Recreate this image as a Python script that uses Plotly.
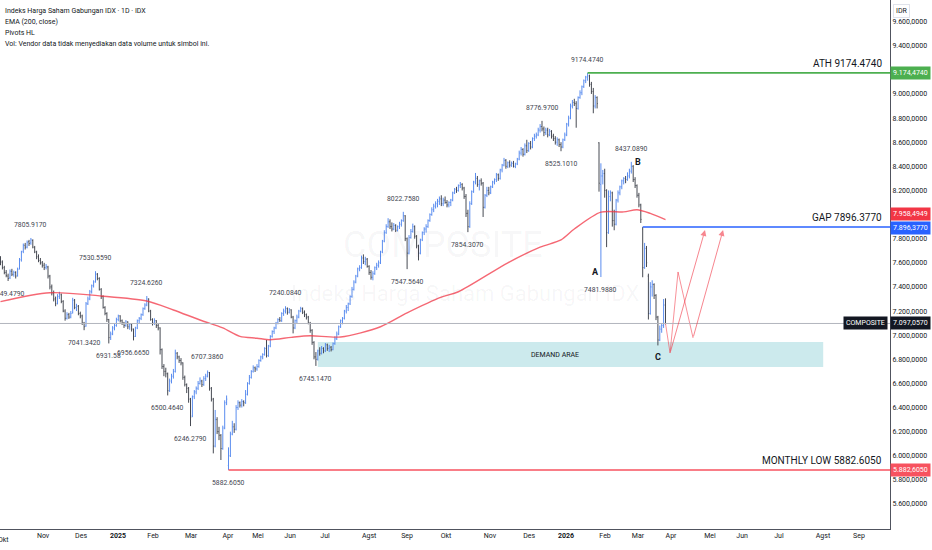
import plotly.graph_objects as go

# daily bars: (open, high, low, close)
bars_okt24 = [
    (7640, 7655, 7580, 7610), (7605, 7620, 7545, 7560), (7560, 7575, 7505, 7520), (7520, 7540, 7480, 7495), (7490, 7510, 7449.479, 7470),
    (7475, 7545, 7465, 7530), (7530, 7550, 7490, 7505), (7505, 7535, 7485, 7520), (7520, 7530, 7470, 7490), (7495, 7560, 7485, 7545),
    (7550, 7640, 7545, 7625), (7625, 7700, 7610, 7690), (7695, 7760, 7680, 7745), (7745, 7765, 7710, 7730), (7730, 7785, 7720, 7770),
    (7775, 7790, 7740, 7760), (7765, 7805.917, 7750, 7790), (7785, 7795, 7720, 7730), (7725, 7740, 7680, 7690), (7690, 7700, 7630, 7650),
    (7650, 7670, 7605, 7620), (7620, 7640, 7585, 7600), (7600, 7615, 7560, 7580),
]
bars_nov24 = [
    (7580, 7600, 7540, 7560), (7560, 7590, 7545, 7570), (7565, 7575, 7470, 7490), (7490, 7500, 7380, 7400), (7400, 7420, 7330, 7350),
    (7350, 7370, 7280, 7300), (7300, 7320, 7240, 7260), (7265, 7340, 7255, 7320), (7320, 7360, 7300, 7340), (7335, 7345, 7265, 7280),
    (7280, 7290, 7190, 7200), (7200, 7215, 7120, 7140), (7140, 7190, 7130, 7170), (7170, 7185, 7135, 7150), (7150, 7200, 7140, 7180),
    (7185, 7310, 7180, 7290), (7290, 7300, 7215, 7230), (7230, 7260, 7200, 7240), (7240, 7250, 7165, 7180), (7180, 7195, 7140, 7160),
]
bars_des24 = [
    (7160, 7170, 7085, 7100), (7100, 7110, 7041.342, 7070), (7075, 7275, 7070, 7260), (7260, 7320, 7250, 7300), (7300, 7375, 7290, 7360),
    (7360, 7420, 7345, 7410), (7410, 7455, 7395, 7440), (7445, 7530.559, 7435, 7510), (7505, 7515, 7455, 7470), (7470, 7480, 7370, 7380),
    (7380, 7390, 7300, 7320), (7320, 7330, 7220, 7230), (7230, 7240, 7165, 7180), (7180, 7190, 7110, 7130), (7130, 7135, 6931.58, 6980),
    (6980, 7030, 6960, 7010), (7010, 7075, 7000, 7060), (7060, 7095, 7040, 7080), (7080, 7145, 7070, 7130),
]
bars_jan25 = [
    (7130, 7170, 7115, 7160), (7160, 7165, 7105, 7120), (7120, 7130, 7085, 7100), (7100, 7110, 7060, 7080), (7080, 7125, 7070, 7110),
    (7110, 7115, 7050, 7070), (7070, 7100, 7045, 7090), (7090, 7095, 7030, 7050), (7050, 7055, 6956.665, 6990), (6990, 7070, 6985, 7060),
    (7060, 7130, 7050, 7120), (7120, 7150, 7100, 7140), (7140, 7180, 7125, 7170), (7170, 7230, 7160, 7220), (7220, 7265, 7210, 7250),
    (7250, 7324.626, 7240, 7300), (7300, 7305, 7190, 7200), (7200, 7210, 7120, 7130), (7130, 7140, 7080, 7100),
]
bars_feb25 = [
    (7100, 7140, 7085, 7120), (7120, 7125, 7060, 7080), (7080, 7095, 7040, 7060), (7060, 7065, 6840, 6880), (6880, 6890, 6720, 6740),
    (6740, 6760, 6660, 6700), (6700, 6730, 6650, 6680), (6680, 6690, 6500.464, 6540), (6540, 6640, 6530, 6620), (6620, 6680, 6600, 6660),
    (6660, 6720, 6640, 6700), (6700, 6880, 6690, 6850), (6850, 6860, 6800, 6820), (6820, 6830, 6770, 6790), (6790, 6810, 6750, 6770),
    (6770, 6775, 6630, 6650), (6650, 6665, 6575, 6590), (6590, 6600, 6520, 6560), (6560, 6570, 6440, 6470), (6470, 6480, 6246.279, 6320),
]
bars_mar25 = [
    (6330, 6500, 6320, 6490), (6490, 6545, 6470, 6530), (6530, 6575, 6510, 6560), (6560, 6620, 6545, 6600), (6600, 6650, 6590, 6620),
    (6620, 6630, 6570, 6590), (6590, 6660, 6580, 6640), (6640, 6680, 6620, 6660), (6660, 6707.386, 6650, 6690), (6690, 6695, 6540, 6560),
    (6560, 6570, 6450, 6470), (6470, 6480, 6020, 6080), (6080, 6380, 6070, 6300), (6300, 6320, 6180, 6200), (6200, 6240, 6130, 6170),
    (6170, 6180, 5965, 6060), (6060, 6250, 6050, 6230), (6230, 6460, 6220, 6440), (6440, 6500, 6420, 6470),
]
bars_apr25 = [
    (5920, 6070, 5882.605, 6000), (6000, 6200, 5990, 6180), (6180, 6290, 6170, 6240), (6240, 6270, 6190, 6220), (6220, 6420, 6210, 6400),
    (6400, 6460, 6380, 6440), (6440, 6450, 6400, 6420), (6420, 6470, 6400, 6450), (6450, 6460, 6410, 6440), (6440, 6545, 6430, 6510),
    (6510, 6610, 6500, 6600), (6600, 6670, 6590, 6650), (6650, 6710, 6640, 6700), (6700, 6750, 6690, 6730), (6730, 6740, 6695, 6720),
    (6720, 6760, 6705, 6740),
]
bars_mei25 = [
    (6740, 6800, 6730, 6790), (6790, 6830, 6780, 6820), (6820, 6850, 6800, 6840), (6840, 6900, 6830, 6890), (6890, 6960, 6815, 6830),
    (6830, 6920, 6820, 6910), (6910, 7000, 6900, 6990), (6990, 7040, 6980, 7030), (7030, 7070, 7010, 7060), (7060, 7110, 7050, 7100),
    (7100, 7140, 7090, 7130), (7130, 7150, 7110, 7120), (7120, 7190, 7110, 7180), (7180, 7220, 7160, 7200), (7200, 7240.084, 7180, 7220),
    (7220, 7230, 7170, 7190), (7190, 7225, 7180, 7210),
]
bars_jun25 = [
    (7210, 7215, 7140, 7150), (7150, 7160, 7015, 7060), (7060, 7130, 7050, 7120), (7120, 7170, 7100, 7150), (7150, 7210, 7140, 7200),
    (7200, 7235, 7190, 7220), (7220, 7230, 7175, 7190), (7190, 7205, 7150, 7170), (7170, 7180, 7130, 7150), (7150, 7160, 7090, 7100),
    (7100, 7110, 7020, 7040), (7040, 7050, 6920, 6940), (6940, 6950, 6800, 6820), (6820, 6860, 6745.147, 6800), (6800, 6880, 6790, 6870),
    (6870, 6900, 6830, 6850), (6850, 6910, 6840, 6890), (6890, 6900, 6850, 6870),
]
bars_jul25 = [
    (6870, 6935, 6860, 6920), (6920, 6930, 6870, 6890), (6890, 6920, 6860, 6900), (6900, 6910, 6865, 6880), (6880, 6940, 6875, 6930),
    (6930, 6990, 6920, 6970), (6970, 7030, 6960, 7010), (7010, 7080, 7000, 7070), (7070, 7130, 7060, 7120), (7120, 7150, 7090, 7140),
    (7140, 7210, 7130, 7200), (7200, 7250, 7180, 7230), (7230, 7270, 7200, 7260), (7260, 7330, 7250, 7320), (7320, 7400, 7310, 7380),
    (7380, 7455, 7370, 7440), (7440, 7500, 7430, 7490), (7490, 7560, 7480, 7550), (7550, 7580, 7530, 7560), (7560, 7660, 7550, 7640),
    (7640, 7670, 7590, 7610), (7610, 7650, 7580, 7630), (7630, 7640, 7560, 7570),
]
bars_agst25 = [
    (7570, 7580, 7500, 7520), (7520, 7540, 7460, 7480), (7480, 7530, 7455, 7510), (7510, 7570, 7500, 7560), (7560, 7600, 7540, 7580),
    (7580, 7620, 7560, 7600), (7600, 7700, 7590, 7690), (7690, 7790, 7680, 7780), (7780, 7870, 7770, 7850), (7850, 7920, 7840, 7900),
    (7900, 7970, 7890, 7940), (7940, 7960, 7880, 7900), (7900, 7935, 7860, 7880), (7880, 7930, 7870, 7910), (7910, 7920, 7855, 7870),
    (7870, 7910, 7860, 7900), (7900, 7940, 7880, 7920), (7920, 7960, 7900, 7950), (7950, 8022.758, 7940, 7990), (7990, 7995, 7780, 7800),
]
bars_sep25 = [
    (7800, 7810, 7547.564, 7680), (7680, 7830, 7670, 7810), (7810, 7880, 7800, 7860), (7860, 7925, 7850, 7900), (7900, 7910, 7800, 7820),
    (7820, 7830, 7720, 7740), (7740, 7750, 7620, 7680), (7680, 7800, 7670, 7790), (7790, 7860, 7780, 7850), (7850, 7895, 7830, 7880),
    (7880, 7920, 7850, 7900), (7900, 7960, 7890, 7950), (7950, 8010, 7940, 8000), (8000, 8060, 7990, 8040), (8040, 8090, 8020, 8070),
    (8070, 8110, 8050, 8090), (8090, 8130, 8060, 8110), (8110, 8150, 8080, 8130), (8130, 8160, 8070, 8090), (8090, 8140, 8070, 8120),
    (8120, 8150, 8090, 8100),
]
bars_okt25 = [
    (8100, 8120, 8060, 8080), (8080, 8110, 8060, 8100), (8100, 8130, 8070, 8120), (8120, 8190, 8110, 8180), (8180, 8220, 8170, 8210),
    (8210, 8230, 8180, 8200), (8200, 8250, 8190, 8240), (8240, 8270, 8220, 8250), (8250, 8260, 8200, 8220), (8220, 8230, 8130, 8150),
    (8150, 8170, 7980, 8010), (8010, 8040, 7854.307, 7900), (7900, 8110, 7890, 8090), (8090, 8200, 8080, 8190), (8190, 8280, 8180, 8270),
    (8270, 8345, 8250, 8300), (8300, 8320, 8230, 8250), (8250, 8290, 8200, 8280), (8280, 8300, 8240, 8260), (8260, 8270, 7980, 8060),
    (8060, 8170, 8050, 8160), (8160, 8230, 8145, 8200), (8200, 8230, 8160, 8180),
]
bars_nov25 = [
    (8180, 8240, 8170, 8230), (8230, 8280, 8220, 8270), (8270, 8300, 8250, 8290), (8290, 8345, 8270, 8330), (8330, 8340, 8280, 8300),
    (8300, 8380, 8290, 8370), (8370, 8420, 8350, 8410), (8410, 8470, 8400, 8450), (8450, 8460, 8380, 8400), (8400, 8440, 8385, 8430),
    (8430, 8450, 8390, 8410), (8410, 8440, 8395, 8425), (8425, 8445, 8390, 8400), (8400, 8430, 8385, 8420), (8420, 8470, 8410, 8460),
    (8460, 8530, 8450, 8510), (8510, 8560, 8490, 8540), (8540, 8550, 8480, 8500), (8500, 8590, 8490, 8570), (8570, 8620, 8510, 8530),
]
bars_des25 = [
    (8530, 8600, 8520, 8590), (8590, 8610, 8540, 8560), (8560, 8640, 8550, 8630), (8630, 8670, 8610, 8650), (8650, 8680, 8630, 8660),
    (8660, 8720, 8650, 8700), (8700, 8750, 8680, 8730), (8730, 8776.97, 8690, 8710), (8710, 8730, 8650, 8680), (8680, 8720, 8660, 8700),
    (8700, 8720, 8640, 8660), (8660, 8710, 8650, 8690), (8690, 8700, 8630, 8650), (8650, 8670, 8610, 8630), (8630, 8650, 8580, 8600),
    (8600, 8640, 8570, 8620), (8620, 8630, 8560, 8580), (8580, 8600, 8525.101, 8560), (8560, 8630, 8550, 8620), (8620, 8680, 8610, 8660),
]
bars_jan26 = [
    (8660, 8760, 8650, 8750), (8750, 8820, 8730, 8800), (8800, 8920, 8790, 8900), (8900, 8950, 8880, 8930), (8930, 8960, 8900, 8920),
    (8920, 8940, 8720, 8880), (8880, 8980, 8870, 8970), (8970, 9030, 8960, 9010), (9010, 9070, 8990, 9060), (9060, 9120, 9050, 9110),
    (9110, 9150, 9090, 9140), (9140, 9174.474, 9110, 9150), (9150, 9160, 9060, 9080), (9080, 9100, 9000, 9020), (9020, 9050, 8840, 8900),
    (8900, 8990, 8880, 8970), (8970, 8980, 8880, 8920), (8595, 8600, 8190, 8260), (8250, 8425, 7481.988, 8320), (8320, 8370, 8250, 8340),
    (8340, 8380, 8140, 8200),
]
bars_feb26 = [
    (8200, 8210, 7730, 7850), (7850, 8200, 7840, 8150), (8150, 8200, 8110, 8180), (8180, 8190, 7900, 7950), (7950, 8040, 7870, 7920),
    (7920, 8130, 7910, 8120), (8120, 8200, 8100, 8180), (8180, 8240, 8160, 8230), (8230, 8290, 8210, 8280), (8280, 8310, 8250, 8300),
    (8300, 8320, 8260, 8290), (8290, 8350, 8280, 8320), (8320, 8380, 8300, 8360), (8360, 8437.089, 8340, 8400), (8400, 8410, 8270, 8290),
    (8290, 8310, 8220, 8240), (8240, 8250, 8140, 8160), (8160, 8180, 8060, 8080), (8080, 8090, 7930, 7960),
]
bars_mar26 = [
    (7880, 7896.377, 7480, 7560), (7560, 7765, 7550, 7720), (7720, 7740, 7565, 7600), (7490, 7510, 7130, 7180), (7180, 7440, 7170, 7400),
    (7400, 7455, 7320, 7420), (7420, 7430, 7300, 7330), (7330, 7340, 7125, 7150), (7150, 7160, 6915, 6960), (6960, 7080, 6950, 7050),
    (7050, 7100, 7020, 7080), (7080, 7300, 7060, 7250), (7250, 7305, 7090, 7097.057),
]

# EMA(200): bar index, value
ema_idx = [0, 26, 53, 77, 91, 105, 117, 126, 135, 142, 153, 163, 179, 200, 214, 232, 241, 267, 284, 295, 302, 316, 328, 335, 342, 350]
ema_val = [7278, 7352, 7325, 7283, 7209, 7126, 7060, 6990, 6975, 6962, 6982, 6995, 6985, 7070, 7185, 7315, 7360, 7600, 7730,
           7790, 7880, 8020, 8022, 8040, 8010, 7958.4949]

# Pivots HL labels
pivot_idx = [4, 16, 44, 50, 57, 70, 77, 88, 100, 109, 120, 150, 166, 212, 214, 246, 285, 295, 309, 316, 332]
pivot_val = [7449.479, 7805.917, 7041.342, 7530.559, 6931.58, 6956.665, 7324.626, 6500.464, 6246.279, 6707.386, 5882.605,
             7240.084, 6745.147, 8022.758, 7547.564, 7854.307, 8776.97, 8525.101, 9174.474, 7481.988, 8437.089]
pivot_txt = ["7449.4790", "7805.9170", "7041.3420", "7530.5590", "6931.58", "6956.6650", "7324.6260", "6500.4640", "6246.2790",
             "6707.3860", "5882.6050", "7240.0840", "6745.1470", "8022.7580", "7547.5640", "7854.3070", "8776.9700", "8525.1010",
             "9174.4740", "7481.9880", "8437.0890"]
pivot_hl = ["L", "H", "L", "H", "L", "L", "H", "L", "L", "H", "L", "H", "L", "H", "L", "L", "H", "L", "H", "L", "H"]

# horizontal levels drawn on the chart
level_txt = ["ATH 9174.4740", "GAP 7896.3770", "MONTHLY LOW 5882.6050"]
level_val = [9174.474, 7896.377, 5882.605]
level_start = [309, 338, 120]
level_col = ["#4caf50", "#2962ff", "#f7525f"]
level_box = ["9.174,4740", "7.896,3770", "5.882,6050"]

last_close = 7097.057
ema_last = 7958.4949

demand_lo, demand_hi = 6736, 6943
demand_x = [167, 433]

# projected scenario drawn after the last bar
path_a_x = [350, 352.4, 370.8]
path_a_y = [7097, 6852, 7872]
path_b_x = [352.4, 356.6, 364.5, 380.3]
path_b_y = [6852, 7524, 6977, 7872]

wave_txt = ["A", "B", "C"]
wave_x = [313.2, 335.3, 345.8]
wave_y = [7524, 8436, 6819]

month_pos = [22.4, 42.4, 61.8, 80.3, 100.3, 119.7, 135.5, 152.4, 170.8, 194, 214, 234.5, 257.6, 278.2, 297.6, 318.2,
             335.5, 352.9, 373.4, 390.3, 409.7, 432.9, 451.8]
month_txt = ["Nov", "Des", "<b>2025</b>", "Feb", "Mar", "Apr", "Mei", "Jun", "Jul", "Agst", "Sep", "Okt", "Nov", "Des",
             "<b>2026</b>", "Feb", "Mar", "Apr", "Mei", "Jun", "Jul", "Agst", "Sep"]

price_ticks = [5600, 5800, 6000, 6200, 6400, 6600, 6800, 7000, 7200, 7400, 7600, 7800, 8000, 8200, 8400, 8600, 8800,
               9000, 9200, 9400, 9600]

legend_lines = ["Indeks Harga Saham Gabungan IDX · 1D · IDX", "EMA (200, close)", "Pivots HL",
                "Vol: Vendor data tidak menyediakan data volume untuk simbol ini."]

bars = (bars_okt24 + bars_nov24 + bars_des24 + bars_jan25 + bars_feb25 + bars_mar25 + bars_apr25 + bars_mei25
        + bars_jun25 + bars_jul25 + bars_agst25 + bars_sep25 + bars_okt25 + bars_nov25 + bars_des25 + bars_jan26
        + bars_feb26 + bars_mar26)
xs = list(range(len(bars)))

FONT = "Roboto, sans-serif"
INK = "#131722"


def idr(v):
    # 9174.474 -> 9.174,4740
    return f"{v:,.4f}".replace(",", "_").replace(".", ",").replace("_", ".")


fig = go.Figure()

fig.add_trace(go.Ohlc(
    x=xs,
    open=[b[0] for b in bars], high=[b[1] for b in bars],
    low=[b[2] for b in bars], close=[b[3] for b in bars],
    increasing=dict(line=dict(color="#5b8def", width=1)),
    decreasing=dict(line=dict(color="#474a53", width=1)),
    tickwidth=0.35, hoverinfo="skip",
))

fig.add_trace(go.Scatter(x=ema_idx, y=ema_val, mode="lines",
                         line=dict(color="rgba(242,54,69,0.75)", width=1.4, shape="spline", smoothing=0.8),
                         hoverinfo="skip"))

for px_, py_ in [(path_a_x, path_a_y), (path_b_x, path_b_y)]:
    fig.add_trace(go.Scatter(x=px_[:-1], y=py_[:-1], mode="lines",
                             line=dict(color="rgba(242,54,69,0.55)", width=1), hoverinfo="skip"))
    fig.add_annotation(x=px_[-1], y=py_[-1], ax=px_[-2], ay=py_[-2], axref="x", ayref="y",
                       xref="x", yref="y", text="", showarrow=True, arrowhead=2, arrowsize=1.2,
                       arrowwidth=1, arrowcolor="rgba(242,54,69,0.6)")

x_right = 470

# demand zone
fig.add_shape(type="rect", x0=demand_x[0], x1=demand_x[1], y0=demand_lo, y1=demand_hi,
              fillcolor="rgba(0,151,167,0.2)", line=dict(width=0), layer="below")
fig.add_annotation(x=(demand_x[0] + demand_x[1]) / 2 - 8, y=(demand_lo + demand_hi) / 2, text="DEMAND ARAE",
                   showarrow=False, font=dict(family=FONT, size=7, color=INK))

# last price line
fig.add_shape(type="line", x0=-5, x1=x_right, y0=last_close, y1=last_close,
              line=dict(color="#b2b5be", width=1))

for txt, val, st, col in zip(level_txt, level_val, level_start, level_col):
    fig.add_shape(type="line", x0=st, x1=x_right, y0=val, y1=val, line=dict(color=col, width=1.6))
    fig.add_annotation(x=1, xref="paper", y=val, xanchor="right", yanchor="bottom", xshift=-6, yshift=2,
                       text=txt, showarrow=False, font=dict(family=FONT, size=10, color=INK))

for i, v, t, hl in zip(pivot_idx, pivot_val, pivot_txt, pivot_hl):
    fig.add_annotation(x=i, y=v, text=t, showarrow=False, yshift=13 if hl == "H" else -13,
                       font=dict(family=FONT, size=6.8, color="#434651"))

for t, wx, wy in zip(wave_txt, wave_x, wave_y):
    fig.add_annotation(x=wx, y=wy, text=f"<b>{t}</b>", showarrow=False,
                       font=dict(family=FONT, size=9, color=INK))

# watermark
fig.add_annotation(x=0.498, y=0.537, xref="paper", yref="paper", text="COMPOSITE", showarrow=False,
                   font=dict(family=FONT, size=36, color="rgba(19,23,34,0.045)"))
fig.add_annotation(x=0.522, y=0.446, xref="paper", yref="paper", text="Indeks Harga Saham Gabungan IDX",
                   showarrow=False, font=dict(family=FONT, size=22, color="rgba(19,23,34,0.045)"))

# legend block top left
for k, line in enumerate(legend_lines):
    fig.add_annotation(x=0, y=1, xref="paper", yref="paper", xanchor="left", yanchor="middle",
                       xshift=3, yshift=-11 - 11 * k, text=line, showarrow=False,
                       font=dict(family=FONT, size=7, color=INK))

# price-scale boxes (EMA and GAP boxes pushed apart like the platform does)
boxes = [(level_val[0], level_box[0], level_col[0], 0), (ema_last, idr(ema_last), "#f23645", 6),
         (level_val[1], level_box[1], level_col[1], -1), (last_close, idr(last_close), INK, 0),
         (level_val[2], level_box[2], "#f7525f", 0)]
for val, txt, col, sh in boxes:
    fig.add_annotation(x=1, xref="paper", y=val, xanchor="left", yanchor="middle", xshift=0, yshift=sh,
                       text=txt, showarrow=False, bgcolor=col, borderpad=2,
                       font=dict(family=FONT, size=7, color="white"))
fig.add_annotation(x=1, xref="paper", y=last_close, xanchor="right", yanchor="middle", xshift=-2,
                   text="COMPOSITE", showarrow=False, bgcolor=INK, borderpad=2,
                   font=dict(family=FONT, size=7, color="white"))
fig.add_annotation(x=1, y=1, xref="paper", yref="paper", xanchor="left", yanchor="top", xshift=3, yshift=-4,
                   text="IDR", showarrow=False, bgcolor="white", bordercolor="#e0e3eb", borderwidth=1, borderpad=2,
                   font=dict(family=FONT, size=7, color=INK))
fig.add_annotation(x=0, y=0, xref="paper", yref="paper", yanchor="top", xshift=-4, yshift=-5, text="Okt",
                   showarrow=False, font=dict(family=FONT, size=7, color=INK))

fig.update_layout(
    width=932, height=550,
    margin=dict(l=0, r=42, t=0, b=21),
    paper_bgcolor="white", plot_bgcolor="white",
    showlegend=False,
    xaxis=dict(range=[-0.263, 468.16], showgrid=False, zeroline=False, showline=True, linecolor="#50535e",
               linewidth=1, tickvals=month_pos, ticktext=month_txt, ticks="", automargin=False,
               tickfont=dict(family=FONT, size=7, color=INK), rangeslider=dict(visible=False)),
    yaxis=dict(range=[5393, 9779], side="right", showgrid=False, zeroline=False, showline=True,
               linecolor="#50535e", linewidth=1, tickvals=price_ticks, ticktext=[idr(v) for v in price_ticks],
               ticks="", automargin=False, tickfont=dict(family=FONT, size=7, color=INK)),
)

# page body has a default 8px margin; drop it so the chart sits flush with the window
fig.write_html("out.html", config={"displayModeBar": False},
               post_script="document.body.style.margin='0';")
